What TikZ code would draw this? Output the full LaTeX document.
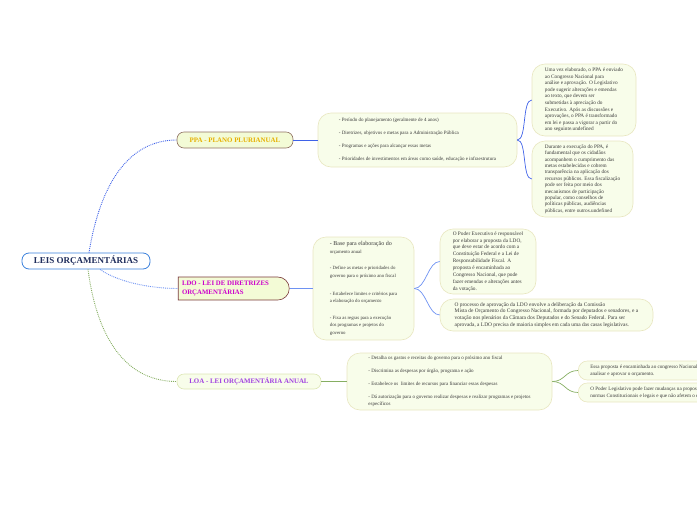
\documentclass[tikz,border=0pt]{standalone}
\usepackage{fontspec}
\setmainfont{Liberation Serif}
\usetikzlibrary{shapes.misc}
\definecolor{navy}{HTML}{1F2D5C}
\definecolor{rootb}{HTML}{3A80DC}
\definecolor{gold}{HTML}{E6B000}
\definecolor{mag}{HTML}{CC00CC}
\definecolor{purp}{HTML}{A040E0}
\definecolor{mainf}{HTML}{F3FBD6}
\definecolor{ppab}{HTML}{8E7060}
\definecolor{ldob}{HTML}{7A3A3A}
\definecolor{loab}{HTML}{DCE6B4}
\definecolor{detf}{HTML}{F8FDEA}
\definecolor{detb}{HTML}{E8E6C0}
\definecolor{txt}{HTML}{3A3A3A}
\definecolor{lblue}{HTML}{3F62E8}
\definecolor{lblue2}{HTML}{6E92F2}
\definecolor{lgreen}{HTML}{86AE62}
\begin{document}
\begin{tikzpicture}[x=1pt,y=-1pt,
  mainnode/.style={draw, fill=mainf, line width=0.6, rounded corners=7, inner sep=0, font=\fontsize{6.9}{8}\selectfont\bfseries},
  detail/.style={draw=detb, fill=detf, line width=0.6, rounded corners=13, inner sep=0, align=left, text=txt, font=\fontsize{5.3}{6.6}\selectfont},
  conn/.style={line width=0.9},
]
\useasboundingbox (0,0) rectangle (697,520);
\clip (0,0) rectangle (697,520);

% root
\node[draw=rootb, fill=white, line width=0.8, rounded corners=7, minimum width=128, minimum height=16, inner sep=0,
      text=navy, font=\fontsize{9}{10}\selectfont\bfseries] (root) at (86,261) {LEIS ORÇAMENTÁRIAS};

% main branches
\node[mainnode, draw=ppab, text=gold, minimum width=116, minimum height=16] (ppa) at (235,140) {PPA - PLANO PLURIANUAL};
\node[draw=ldob, fill=mainf, line width=0.6, rounded rectangle, rounded rectangle left arc=none, inner sep=0,
      minimum width=111, minimum height=23, align=left, text=mag, font=\fontsize{6.8}{8.6}\selectfont\bfseries] (ldo) at (232.5,288.5)
      {LDO - LEI DE DIRETRIZES\hspace*{14pt}\\ORÇAMENTÁRIAS};
\node[mainnode, draw=loab, fill=detf, text=purp, minimum width=144, minimum height=15] (loa) at (249,381.5) {LOA - LEI ORÇAMENTÁRIA ANUAL};

% PPA details
\node[detail, minimum width=199, minimum height=54, font=\fontsize{5.0}{13}\selectfont] (ppad) at (417.5,140)
{- Período do planejamento (geralmente de 4 anos)\\
- Diretrizes, objetivos e metas para a Administração Pública\\
- Programas e ações para alcançar essas metas\\
- Prioridades de investimentos em áreas como saúde, educação e infraestrutura};

\node[detail, minimum width=104, minimum height=72, font=\fontsize{5.25}{6.6}\selectfont] (pa) at (584,100)
{Uma vez elaborado, o PPA é enviado\\
ao Congresso Nacional para\\
análise e aprovação. O Legislativo\\
pode sugerir alterações e emendas\\
ao texto, que devem ser\\
submetidas à apreciação do\\
Executivo. Após as discussões e\\
aprovações, o PPA é transformado\\
em lei e passa a vigorar a partir do\\
ano seguinte.undefined};

\node[detail, minimum width=101, minimum height=76, font=\fontsize{5.25}{6.4}\selectfont] (pb) at (582.5,179)
{Durante a execução do PPA, é\\
fundamental que os cidadãos\\
acompanhem o cumprimento das\\
metas estabelecidas e cobrem\\
transparência na aplicação dos\\
recursos públicos. Essa fiscalização\\
pode ser feita por meio dos\\
mecanismos de participação\\
popular, como conselhos de\\
políticas públicas, audiências\\
públicas, entre outros.undefined};

% LDO details
\node[detail, minimum width=101, minimum height=103, font=\fontsize{4.8}{7.6}\selectfont] (ldod) at (363.5,288.5)
{{\fontsize{6.0}{7.6}\selectfont - Base para elaboração do}\\
orçamento anual\\[9pt]
- Define as metas e prioridades do\\
governo para o próximo ano fiscal\\[10pt]
- Estabelece limites e critérios para\\
a elaboração do orçamento\\[9pt]
- Fixa as regras para a execução\\
dos programas e projetos do\\
governo};

\node[detail, minimum width=96, minimum height=65, font=\fontsize{5.3}{6.9}\selectfont] (lc) at (488,261.5)
{O Poder Executivo é responsável\\
por elaborar a proposta da LDO,\\
que deve estar de acordo com a\\
Constituição Federal e a Lei de\\
Responsabilidade Fiscal. A\\
proposta é encaminhada ao\\
Congresso Nacional, que pode\\
fazer emendas e alterações antes\\
da votação.};

\node[detail, minimum width=213, minimum height=32, font=\fontsize{5.4}{6.7}\selectfont] (ld) at (546.5,315)
{O processo de aprovação da LDO envolve a deliberação da Comissão\\
Mista de Orçamento do Congresso Nacional, formada por deputados e senadores, e a\\
votação nos plenários da Câmara dos Deputados e do Senado Federal. Para ser\\
aprovada, a LDO precisa de maioria simples em cada uma das casas legislativas.};

% LOA details
\node[detail, minimum width=205, minimum height=57, font=\fontsize{5}{6.5}\selectfont] (load) at (449.5,381.5)
{- Detalha os gastos e receitas do governo para o próximo ano fiscal\\[6.5pt]
- Discrimina as despesas por órgão, programa e ação\\[6.5pt]
- Estabelece os\ \ limites de recursos para financiar essas despesas\\[6.5pt]
- Dá autorização para o governo realizar despesas e realizar programas e projetos\\
específicos};

\node[detail, rounded corners=9, minimum height=19, anchor=west, inner xsep=12, font=\fontsize{5.1}{7}\selectfont] (le) at (578,370.5)
{Essa proposta é encaminhada ao congresso Nacional, que irá\\
analisar e aprovar o orçamento.};
\node[detail, rounded corners=9, minimum height=19, anchor=west, inner xsep=12, font=\fontsize{5.1}{7}\selectfont] (lf) at (578,392.5)
{O Poder Legislativo pode fazer mudanças na proposta, desde que respeitem as\\
normas Constitucionais e legais e que não afetem o equilíbrio fiscal.};

% connectors from root
\draw[conn, lblue, densely dotted] ([xshift=3]root.north) .. controls (100,185) and (128,140) .. (ppa.west);
\draw[conn, lblue2, densely dotted] ([xshift=14]root.south) .. controls (118,282) and (150,288.5) .. (ldo.west);
\draw[conn, lgreen, densely dotted] ([xshift=2]root.south) .. controls (98,345) and (130,381.5) .. (loa.west);

% PPA connectors
\draw[conn, lblue] (ppa.east) -- (ppad.west);
\draw[conn, lblue, line width=0.7] (ppad.east) .. controls (527,140) and (522,100) .. (pa.west);
\draw[conn, lblue, line width=0.7] (ppad.east) .. controls (527,140) and (522,179) .. (pb.west);

% LDO connectors
\draw[conn, lblue2] (ldo.east) -- (ldod.west);
\draw[conn, lblue2, line width=0.7] (ldod.east) .. controls (426,288.5) and (428,261.5) .. (lc.west);
\draw[conn, lblue2, line width=0.7] (ldod.east) .. controls (426,288.5) and (428,315) .. (ld.west);

% LOA connectors
\draw[conn, lgreen] (loa.east) -- (load.west);
\draw[conn, lgreen, line width=0.7] (load.east) .. controls (565,381.5) and (565,370.5) .. (le.west);
\draw[conn, lgreen, line width=0.7] (load.east) .. controls (565,381.5) and (565,392.5) .. (lf.west);
\end{tikzpicture}
\end{document}
